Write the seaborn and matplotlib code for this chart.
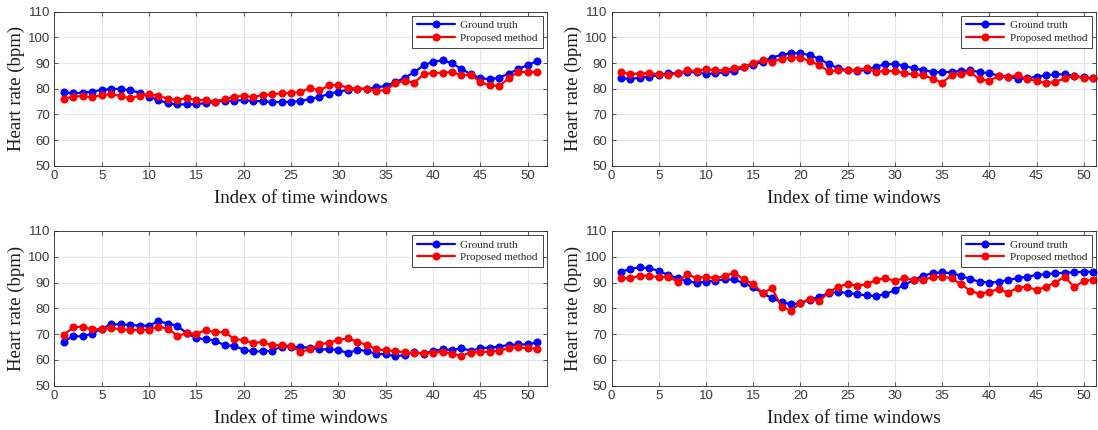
import numpy as np
import pandas as pd
import matplotlib
matplotlib.use("Agg")
import matplotlib.pyplot as plt
import seaborn as sns

# time window index shared by all four subjects
windows = list(range(1, 52))

# subject 1 (top left)
gt_1 = [78.6, 78.2, 78.5, 78.9, 79.5, 79.9, 79.9, 79.3, 78.5, 76.9,
        75.6, 74.3, 73.9, 73.9, 74.0, 74.4, 75.0, 75.2, 75.4, 75.5,
        75.2, 75.1, 74.8, 74.8, 74.9, 75.2, 76.0, 76.8, 78.0, 78.9,
        79.5, 79.9, 80.0, 80.5, 81.1, 82.5, 84.3, 86.4, 89.1, 90.5,
        91.1, 89.9, 87.7, 85.6, 84.1, 83.7, 84.3, 85.9, 87.7, 89.2, 90.8]
est_1 = [76.0, 76.9, 77.2, 76.6, 77.6, 77.8, 77.2, 76.2, 77.3, 77.8,
         77.2, 76.1, 75.6, 76.4, 75.5, 75.6, 75.0, 76.0, 76.8, 77.3,
         76.6, 77.6, 77.8, 78.2, 78.4, 78.7, 80.3, 79.3, 81.3, 81.5,
         80.4, 80.0, 80.0, 79.1, 79.5, 82.2, 83.1, 82.3, 85.6, 86.2,
         86.2, 86.5, 85.2, 85.5, 82.5, 81.3, 81.1, 84.1, 86.5, 86.5, 86.5]

# subject 2 (top right)
gt_2 = [84.1, 83.8, 84.3, 84.7, 85.3, 86.0, 86.2, 86.4, 86.4, 85.7,
        86.0, 86.4, 86.9, 88.3, 89.2, 90.5, 92.1, 93.2, 93.8, 93.8,
        93.1, 91.6, 89.6, 88.0, 87.1, 86.9, 87.3, 88.6, 89.5, 89.6,
        89.0, 87.9, 87.3, 86.5, 86.4, 86.6, 86.9, 87.1, 86.5, 86.0,
        85.1, 84.7, 83.8, 84.1, 84.7, 85.2, 85.6, 85.6, 85.0, 84.4, 84.2]
est_2 = [86.4, 85.7, 85.9, 86.1, 85.6, 85.2, 86.0, 87.1, 86.9, 87.7,
         87.1, 87.2, 88.1, 88.6, 89.9, 91.2, 90.5, 91.6, 92.1, 92.1,
         90.8, 89.1, 86.8, 87.1, 87.2, 87.3, 87.9, 86.6, 86.9, 86.9,
         86.0, 85.6, 85.3, 83.9, 82.3, 85.3, 85.7, 86.4, 83.6, 83.1,
         85.0, 84.7, 85.2, 83.8, 83.1, 82.1, 82.7, 84.0, 85.0, 84.0, 84.0]

# subject 3 (bottom left)
gt_3 = [67.1, 69.3, 69.1, 70.2, 72.1, 73.8, 73.8, 73.6, 73.3, 73.3,
        75.0, 74.1, 73.2, 70.3, 68.4, 68.0, 67.5, 65.6, 65.5, 63.9,
        63.3, 63.3, 63.6, 65.2, 65.2, 64.9, 64.8, 64.1, 64.1, 63.9,
        62.6, 63.9, 63.5, 62.3, 62.2, 61.5, 61.8, 63.2, 62.3, 63.5,
        64.1, 63.9, 64.5, 63.6, 64.5, 64.8, 65.2, 65.8, 66.0, 66.0, 66.8]
est_3 = [69.7, 72.7, 72.9, 71.8, 72.1, 72.3, 72.0, 71.6, 71.6, 71.6,
         72.9, 72.1, 69.4, 70.3, 70.1, 71.6, 70.7, 70.8, 68.1, 67.7,
         66.5, 67.0, 65.6, 65.8, 65.3, 63.2, 64.1, 66.0, 66.7, 67.7,
         68.4, 67.0, 65.8, 64.2, 63.7, 63.5, 62.9, 62.6, 62.6, 62.8,
         63.2, 62.3, 61.7, 62.8, 63.1, 63.2, 63.6, 64.6, 64.9, 64.5, 64.4]

# subject 4 (bottom right)
gt_4 = [94.2, 95.3, 95.9, 95.5, 94.6, 92.9, 91.7, 90.6, 89.9, 90.3,
        90.8, 91.2, 91.2, 89.7, 88.2, 85.9, 83.9, 82.4, 81.6, 82.0,
        83.3, 84.5, 85.9, 86.3, 86.0, 85.5, 85.0, 84.8, 85.5, 87.1,
        89.1, 91.0, 92.7, 93.6, 94.0, 93.6, 92.7, 91.3, 90.3, 90.0,
        90.3, 91.0, 91.7, 92.3, 92.9, 93.3, 93.6, 93.8, 94.0, 94.2, 94.2]
est_4 = [91.7, 91.7, 92.7, 92.7, 92.0, 92.3, 90.3, 93.3, 91.7, 92.3,
         91.7, 92.6, 93.8, 91.2, 89.5, 85.9, 87.8, 80.7, 79.1, 82.0,
         83.6, 82.9, 86.2, 88.4, 89.4, 88.8, 89.3, 91.0, 91.7, 90.7,
         91.7, 91.0, 91.0, 92.1, 92.3, 91.7, 89.3, 86.8, 85.6, 86.5,
         87.4, 86.1, 88.0, 88.4, 87.1, 88.4, 90.0, 92.3, 88.2, 90.7, 91.0]

series_labels = ["Ground truth", "Proposed method"]
panels = [(gt_1, est_1), (gt_2, est_2), (gt_3, est_3), (gt_4, est_4)]

sns.set_theme(style="ticks")
plt.rcParams["font.family"] = ["Liberation Sans", "DejaVu Sans"]

fig = plt.figure(figsize=(10.98, 4.30), dpi=100)
W, H = 1098, 430
boxes = [
    (54.3, 11.7, 546.7, 165.7),
    (611.5, 11.7, 1096, 165.7),
    (54.3, 231.0, 546.7, 385.7),
    (611.5, 231.0, 1096, 385.7),
]
xmax = [52, 51.3, 52, 51.3]

for i, (gt, est) in enumerate(panels):
    x0, y0, x1, y1 = boxes[i]
    ax = fig.add_axes([x0 / W, (H - y1) / H, (x1 - x0) / W, (y1 - y0) / H])
    df = pd.DataFrame({
        "window": windows * 2,
        "hr": gt + est,
        "series": [series_labels[0]] * len(gt) + [series_labels[1]] * len(est),
    })
    sns.lineplot(data=df, x="window", y="hr", hue="series",
                 palette=["#0000ff", "#ff0000"], marker="o", markersize=5.8,
                 markeredgewidth=0, linewidth=1.6, ax=ax, clip_on=False)
    ax.set_xlim(0, xmax[i])
    ax.set_ylim(50, 110)
    ax.set_xticks(range(0, 51, 5))
    ax.set_yticks(range(50, 111, 10))
    ax.grid(True, color="#e6e6e6", linewidth=0.8)
    ax.set_axisbelow(True)
    ax.tick_params(direction="in", top=True, right=True, length=3,
                   width=0.6, labelsize=9.5, colors="#3a3a3a", pad=3)
    for s in ax.spines.values():
        s.set_linewidth(0.6)
        s.set_color("#262626")
    ax.set_xlabel("Index of time windows", family="Liberation Serif",
                  fontsize=13.5, labelpad=6, color="#1a1a1a")
    ax.set_ylabel("Heart rate (bpm)", family="Liberation Serif",
                  fontsize=13.5, labelpad=2, color="#1a1a1a")
    leg = ax.legend(loc="upper right", frameon=True,
                    fancybox=False, framealpha=1, edgecolor="#262626",
                    borderaxespad=0.35, handlelength=3.4, handletextpad=0.5,
                    borderpad=0.45, labelspacing=0.25,
                    prop={"family": "Liberation Serif", "size": 8})
    leg.get_frame().set_linewidth(0.6)

fig.savefig("out.png", dpi=100)
